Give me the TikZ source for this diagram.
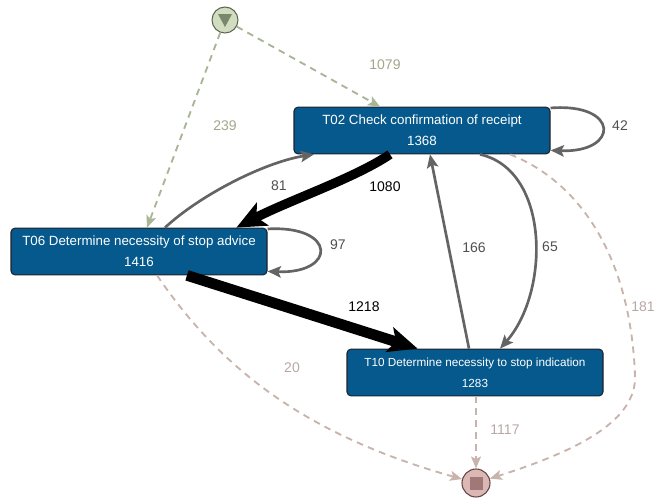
\documentclass[tikz,border=0pt]{standalone}
\usepackage{fontspec}
\setmainfont{Liberation Sans}
\usetikzlibrary{arrows.meta,calc}
\definecolor{boxblue}{RGB}{6,89,140}
\definecolor{boxline}{RGB}{30,35,45}
\definecolor{edgegray}{RGB}{100,100,100}
\definecolor{lblgray}{RGB}{80,80,80}
\definecolor{dashgreen}{RGB}{168,182,150}
\definecolor{lblgreen}{RGB}{160,168,140}
\definecolor{dashpink}{RGB}{200,180,172}
\definecolor{lblpink}{RGB}{184,168,164}
\definecolor{startfill}{RGB}{210,220,192}
\definecolor{startline}{RGB}{90,104,80}
\definecolor{startmark}{RGB}{120,136,104}
\definecolor{endfill}{RGB}{220,184,180}
\definecolor{endline}{RGB}{100,70,70}
\definecolor{endmark}{RGB}{160,120,120}
\begin{document}
\begin{tikzpicture}[x=0.75pt,y=-0.75pt,
  task/.style={draw=boxline, line width=0.8pt, fill=boxblue, text=white, rounded corners=3pt,
    minimum width=192pt, minimum height=35pt, align=center, font=\fontsize{10}{15.5}\selectfont, inner sep=2pt},
  lbl/.style={font=\fontsize{10.5}{12}\selectfont, inner sep=1pt},
  grayedge/.style={draw=edgegray, line width=2pt, -{Stealth[length=10pt,width=8.5pt,inset=2pt]}},
  thickedge/.style={draw=black, -{Stealth[length=22pt,width=19pt,inset=5pt]}},
  gedge/.style={draw=dashgreen, line width=1.4pt, dash pattern=on 5pt off 4pt, -{Stealth[length=9pt,width=7.5pt,inset=2pt]}},
  pedge/.style={draw=dashpink, line width=1.4pt, dash pattern=on 5pt off 4pt, -{Stealth[length=9pt,width=7.5pt,inset=2pt]}},
]
\useasboundingbox (0,0) rectangle (654,497);

% nodes
\node[task] (T02) at (422,130.5) {T02 Check confirmation of receipt\\1368};
\node[task] (T06) at (139,251.5) {T06 Determine necessity of stop advice\\1416};
\node[task, font=\fontsize{8.8}{15.5}\selectfont] (T10) at (475,372.5) {T10 Determine necessity to stop indication\\1283};

\node[circle, draw=startline, line width=0.8pt, fill=startfill, minimum size=19.5pt, inner sep=0] (S) at (225,20) {};
\fill[startmark] ([shift={(-7,-6)}]S.center) -- ([shift={(7,-6)}]S.center) -- ([shift={(0,7)}]S.center) -- cycle;

\node[circle, draw=endline, line width=0.8pt, fill=endfill, minimum size=21pt, inner sep=0] (E) at (476,483) {};
\node[fill=endmark, minimum size=9.75pt, inner sep=0] (Esq) at (E.center) {};

% dashed start edges
\draw[gedge] (S) -- ([xshift=-31.5pt]T02.north);
\draw[gedge] (S) -- ([xshift=6pt]T06.north);

% self loops
\draw[grayedge] ([yshift=-1pt]T02.north east) .. controls +(52pt,4pt) and +(52pt,-2pt) .. ([yshift=3pt]T02.south east);
\draw[grayedge] ([yshift=-1pt]T06.north east) .. controls +(52pt,3pt) and +(52pt,-2pt) .. ([yshift=3pt]T06.south east);

% thick edges
\draw[thickedge, line width=7pt] ([xshift=-24pt]T02.south) .. controls (355,178) and (290,200) .. ([xshift=73pt]T06.north);
\draw[thickedge, line width=8pt] ([xshift=36pt]T06.south) -- ([xshift=-43pt]T10.north);

% gray edges
\draw[grayedge] ([xshift=19.5pt]T06.north) .. controls (200,195) and (265,162) .. ([xshift=-81pt]T02.south);
\draw[grayedge] ([xshift=-4.5pt]T10.north) -- ([xshift=6pt]T02.south);
\draw[grayedge] ([xshift=43.5pt]T02.south) .. controls (550,170) and (550,292) .. ([xshift=18.75pt]T10.north);

% dashed end edges
\draw[pedge] ([xshift=66pt]T02.south) .. controls (575,180) and (630,250) .. (635,375) .. controls (637,420) and (580,450) .. (E);
\draw[pedge] ([xshift=13.5pt]T06.south) .. controls (217,363) and (298,433) .. (E);
\draw[pedge] (T10.south -| E) -- (E);

% labels
\node[lbl, text=lblgreen] (l1079) at (385,65) {1079};
\node[lbl, text=lblgreen] (l239) at (225,126) {239};
\node[lbl, text=lblgray] (l42) at (620,126) {42};
\node[lbl, text=black] (l1080) at (385,187) {1080};
\node[lbl, text=lblgray] (l81) at (279,186) {81};
\node[lbl, text=lblgray] (l97) at (338,245) {97};
\node[lbl, text=black] (l1218) at (364,307) {1218};
\node[lbl, text=lblgray] (l166) at (474,248) {166};
\node[lbl, text=lblgray] (l65) at (550,247) {65};
\node[lbl, text=lblpink] (l181) at (643,307) {181};
\node[lbl, text=lblpink] (l20) at (292,368) {20};
\node[lbl, text=lblpink] (l1117) at (505,430) {1117};
\end{tikzpicture}
\end{document}
